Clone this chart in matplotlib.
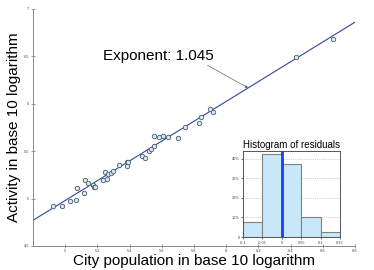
import numpy as np
import matplotlib
matplotlib.use("Agg")
import matplotlib.pyplot as plt

plt.rcParams['font.family'] = ['Liberation Sans', 'DejaVu Sans']

# city data, log10 population vs log10 activity
pop_log = [4.926, 4.981, 5.033, 5.068, 5.072, 5.120, 5.126, 5.140, 5.172, 5.182,
           5.186, 5.238, 5.248, 5.258, 5.269, 5.283, 5.295, 5.337, 5.382, 5.386,
           5.392, 5.475, 5.495, 5.518, 5.531, 5.549, 5.553, 5.584, 5.607, 5.642,
           5.704, 5.745, 5.832, 5.844, 5.902, 5.919, 6.437, 6.662]
act_log = [4.921, 4.924, 4.977, 4.988, 5.107, 5.058, 5.195, 5.167, 5.142, 5.124,
           5.118, 5.198, 5.279, 5.209, 5.258, 5.265, 5.293, 5.349, 5.381, 5.339,
           5.387, 5.447, 5.430, 5.503, 5.524, 5.549, 5.661, 5.651, 5.661, 5.647,
           5.634, 5.756, 5.798, 5.858, 5.945, 5.914, 6.493, 6.686]

exponent = 1.045
intercept = -0.246   # so the line passes ~4.77 at x=4.8

# residual histogram
res_edges = [-0.1, -0.05, 0.0, 0.05, 0.1, 0.15]
res_pct = [0.075, 0.425, 0.375, 0.10, 0.025]

fig = plt.figure(figsize=(3.74, 2.70), dpi=100)
ax = fig.add_axes([0.088, 0.089, 0.861, 0.878])

xfit = np.array([4.8, 6.8])
ax.plot(xfit, intercept + exponent * xfit, color='#3345a0', lw=0.8, zorder=2)
ax.plot(pop_log, act_log, 'o', ms=3.2, mfc='#d8e8f2', mec='#4a5c6c', mew=0.6, zorder=3)

ax.set_xlim(4.8, 6.8)
ax.set_ylim(4.5, 7.0)
ax.set_xticks([5.0, 5.2, 5.4, 5.6, 5.8, 6.0, 6.2, 6.4, 6.6, 6.8])
ax.set_xticklabels(['5', '5.2', '5.4', '5.6', '5.8', '6', '6.2', '6.4', '6.6', '6.8'])
ax.set_yticks([4.5, 5.0, 5.5, 6.0, 6.5, 7.0])
ax.set_yticklabels(['4.5', '5', '5.5', '6', '6.5', '7'])
ax.tick_params(labelsize=2.8, length=2.5, width=0.5, color='#777777',
               direction='inout', pad=1.5, labelcolor='#444444')
ax.tick_params(axis='x', pad=0.8)
for s in ['top', 'right']:
    ax.spines[s].set_visible(False)
for s in ['left', 'bottom']:
    ax.spines[s].set_color('#888888')
    ax.spines[s].set_linewidth(0.7)

ax.set_xlabel('City population in base 10 logarithm', fontsize=11)
ax.set_ylabel('Activity in base 10 logarithm', fontsize=11)
ax.xaxis.set_label_coords(0.5, -0.034)
ax.yaxis.set_label_coords(-0.037, 0.5)

ax.text(5.58, 6.5, 'Exponent: 1.045', fontsize=11, ha='center', va='center')
tip_x = 6.137
ax.annotate('', xy=(tip_x, intercept + exponent * tip_x), xytext=(5.884, 6.405),
            arrowprops=dict(arrowstyle='-|>', color='#666666', lw=0.5,
                            mutation_scale=4, shrinkA=0, shrinkB=0))

# inset histogram
ins = fig.add_axes([0.650, 0.122, 0.259, 0.319])
ins.bar(res_edges[:-1], res_pct, width=np.diff(res_edges), align='edge',
        color='#c8e8fa', edgecolor='#808080', lw=0.8, zorder=2)
ins.axvline(0, color='#1a3cff', lw=2, zorder=3)
ins.set_xlim(-0.1, 0.15)
ins.set_ylim(0, 0.44)
ins.set_xticks(res_edges)
ins.set_xticklabels(['-0.1', '-0.05', '0', '0.05', '0.1', '0.15'])
ins.set_yticks([0, 0.1, 0.2, 0.3, 0.4])
ins.set_yticklabels(['0', '10%', '20%', '30%', '40%'])
ins.yaxis.grid(True, ls=':', color='#aaaaaa', lw=0.5, zorder=0)
ins.set_axisbelow(True)
ins.tick_params(labelsize=2.8, length=1.5, width=0.4, pad=1, labelcolor='#444444')
for s in ins.spines.values():
    s.set_color('#555555')
    s.set_linewidth(0.7)
ins.set_title('Histogram of residuals', fontsize=7, pad=2)

fig.savefig('out.png', dpi=100)
